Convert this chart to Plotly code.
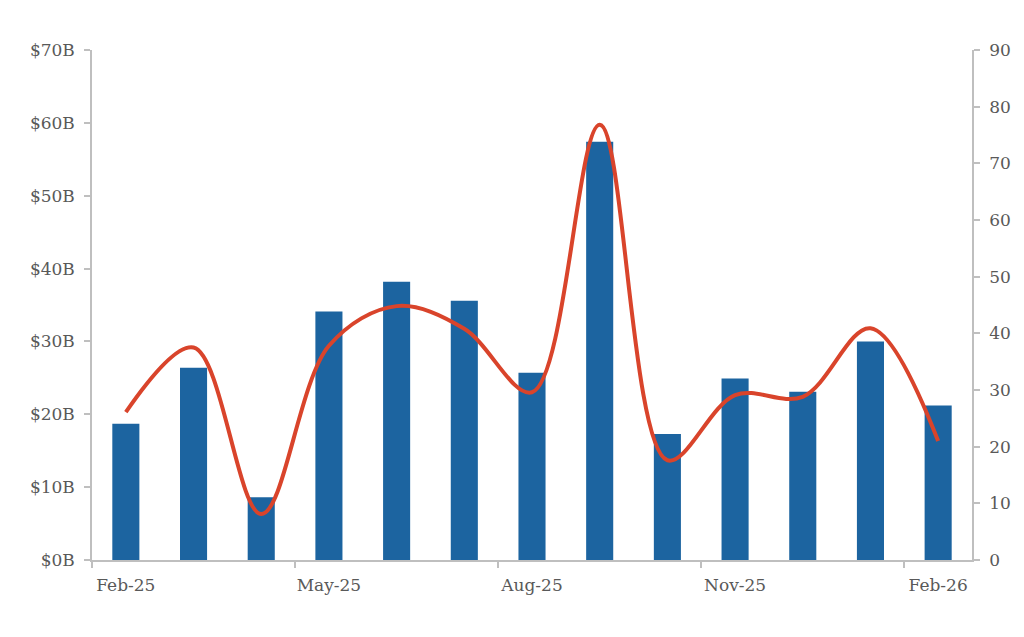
import plotly.graph_objects as go

months = ["Feb-25", "Mar-25", "Apr-25", "May-25", "Jun-25", "Jul-25", "Aug-25",
          "Sep-25", "Oct-25", "Nov-25", "Dec-25", "Jan-26", "Feb-26"]
value_b = [18.7, 26.4, 8.6, 34.1, 38.2, 35.6, 25.7, 57.4, 17.3, 24.9, 23.1, 30.0, 21.2]
count = [26.1, 37.5, 8.1, 37.8, 44.8, 40.8, 29.6, 76.8, 17.6, 29.1, 28.8, 40.9, 21.0]

x_idx = list(range(len(months)))
label_idx = [0, 3, 6, 9, 12]
label_text = [months[i] for i in label_idx]
boundary_ticks = [i - 0.5 for i in range(0, 13, 3)]

FONT = "DejaVu Serif"
GREY = "#595959"
AXIS = "#bfbfbf"

fig = go.Figure()
fig.add_trace(go.Bar(x=x_idx, y=value_b, marker=dict(color="#1c64a0", line=dict(width=0)),
                     width=0.4, yaxis="y", hoverinfo="skip"))
fig.add_trace(go.Scatter(x=x_idx, y=count, mode="lines", yaxis="y2",
                         line=dict(color="#d9442b", width=4, shape="spline", smoothing=1.0),
                         hoverinfo="skip"))

fig.update_layout(
    width=1024, height=637,
    margin=dict(l=84, r=60, t=42, b=85),
    paper_bgcolor="white", plot_bgcolor="white",
    showlegend=False,
    font=dict(family=FONT, size=17, color=GREY),
    xaxis=dict(range=[-0.5, 12.5], tickmode="array", tickvals=label_idx, ticktext=label_text,
               showline=True, linecolor=AXIS, linewidth=1.5, showgrid=False, zeroline=False,
               ticks="outside", ticklen=0, tickcolor=AXIS,
               minor=dict(ticks="outside", tickmode="array", tickvals=boundary_ticks,
                          ticklen=6, tickcolor=AXIS, tickwidth=1.5, showgrid=False),
               tickfont=dict(family=FONT, size=17, color=GREY), ticklabelstandoff=9),
    yaxis=dict(range=[0, 70], tickmode="array", tickvals=list(range(0, 71, 10)),
               ticktext=[f"${v}B" for v in range(0, 71, 10)],
               showline=True, linecolor=AXIS, linewidth=1.5, showgrid=False, zeroline=False,
               ticks="outside", ticklen=6, tickcolor=AXIS, tickwidth=1.5,
               tickfont=dict(family=FONT, size=17, color=GREY), ticklabelstandoff=6),
    yaxis2=dict(range=[0, 90], overlaying="y", side="right", tickmode="array",
                tickvals=list(range(0, 91, 10)),
                showline=True, linecolor=AXIS, linewidth=1.5, showgrid=False, zeroline=False,
                ticks="outside", ticklen=6, tickcolor=AXIS, tickwidth=1.5,
                tickfont=dict(family=FONT, size=17, color=GREY), ticklabelstandoff=6),
)

fig.write_html("out.html")
